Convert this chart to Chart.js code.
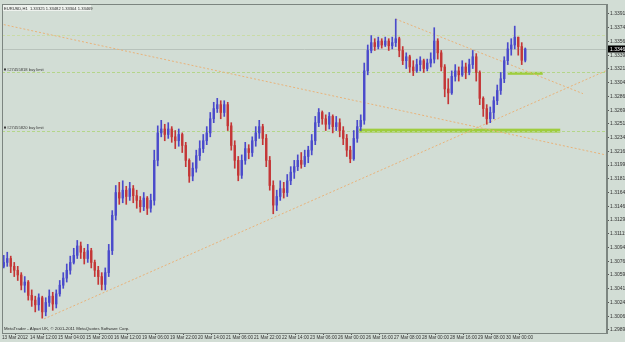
<!DOCTYPE html>
<html>
<head>
<meta charset="utf-8">
<script src="https://cdn.jsdelivr.net/npm/chart.js@4"></script>
<style>
html, body { margin: 0; padding: 0; background: #d2ddd5; }
#wrap { width: 625px; height: 342px; }
</style>
</head>
<body>
<div id="wrap"><canvas id="eurusdChart" width="625" height="342"></canvas></div>
<script>
// EURUSD H1, 2-hour steps
const symbolTitle = 'EURUSD,H1  1.33325 1.33482 1.33304 1.33469';
const copyrightText = 'MetaTrader - Alpari UK, \u00a9 2001-2011 MetaQuotes Software Corp.';

const firstOpen = 1.3070;
const closes = [
    1.3075, 1.3080, 1.3070, 1.3065, 1.3059, 1.3046, 1.3050, 1.3033, 1.3027, 1.3021,
    1.3030, 1.3012, 1.3024, 1.3032, 1.3022, 1.3035, 1.3046, 1.3055, 1.3065, 1.3075,
    1.3084, 1.3096, 1.3088, 1.3080, 1.3090, 1.3075, 1.3065, 1.3057, 1.3047, 1.3062,
    1.3090, 1.3135, 1.3164, 1.3157, 1.3167, 1.3159, 1.3169, 1.3160, 1.3154, 1.3146,
    1.3157, 1.3144, 1.3154, 1.3205, 1.3240, 1.3245, 1.3238, 1.3245, 1.3235, 1.3230,
    1.3238, 1.3224, 1.3205, 1.3185, 1.3195, 1.3211, 1.3220, 1.3230, 1.3240, 1.3258,
    1.3271, 1.3276, 1.3266, 1.3276, 1.3249, 1.3224, 1.3205, 1.3186, 1.3205, 1.3220,
    1.3215, 1.3230, 1.3240, 1.3248, 1.3233, 1.3205, 1.3173, 1.3148, 1.3159, 1.3169,
    1.3164, 1.3179, 1.3190, 1.3197, 1.3205, 1.3200, 1.3210, 1.3218, 1.3230, 1.3253,
    1.3266, 1.3258, 1.3251, 1.3261, 1.3248, 1.3253, 1.3243, 1.3233, 1.3218, 1.3207,
    1.3233, 1.3248, 1.3256, 1.3319, 1.3345, 1.3355, 1.3350, 1.3357, 1.3352, 1.3357,
    1.3351, 1.3355, 1.3360, 1.3345, 1.3332, 1.3337, 1.3324, 1.3319, 1.3327, 1.3332,
    1.3322, 1.3329, 1.3334, 1.3357, 1.3342, 1.3324, 1.3296, 1.3291, 1.3312, 1.3319,
    1.3314, 1.3324, 1.3317, 1.3327, 1.3337, 1.3317, 1.3284, 1.3271, 1.3258, 1.3266,
    1.3281, 1.3294, 1.3309, 1.3332, 1.3347, 1.3352, 1.3362, 1.3350, 1.33325, 1.33469
];
const highs = [
    1.3084, 1.3088, 1.3083, 1.3075, 1.3070, 1.3062, 1.3057, 1.3052, 1.3040, 1.3032,
    1.3035, 1.3032, 1.3030, 1.3040, 1.3037, 1.3040, 1.3052, 1.3062, 1.3073, 1.3083,
    1.3093, 1.3103, 1.3101, 1.3093, 1.3098, 1.3093, 1.3078, 1.3070, 1.3062, 1.3068,
    1.3098, 1.3141, 1.3173, 1.3177, 1.3179, 1.3172, 1.3177, 1.3173, 1.3167, 1.3159,
    1.3164, 1.3159, 1.3162, 1.3218, 1.3249, 1.3256, 1.3251, 1.3253, 1.3248, 1.3243,
    1.3245, 1.3240, 1.3228, 1.3207, 1.3202, 1.3218, 1.3230, 1.3238, 1.3248, 1.3266,
    1.3279, 1.3284, 1.3281, 1.3281, 1.3279, 1.3253, 1.3230, 1.3210, 1.3212, 1.3228,
    1.3225, 1.3235, 1.3248, 1.3256, 1.3251, 1.3238, 1.3210, 1.3179, 1.3167, 1.3179,
    1.3177, 1.3187, 1.3197, 1.3205, 1.3212, 1.3215, 1.3218, 1.3223, 1.3238, 1.3261,
    1.3271, 1.3268, 1.3263, 1.3266, 1.3263, 1.3261, 1.3258, 1.3248, 1.3238, 1.3223,
    1.3243, 1.3256, 1.3263, 1.3329, 1.3352, 1.3364, 1.3360, 1.3362, 1.3360, 1.3362,
    1.3360, 1.3362, 1.3385, 1.3362, 1.3350, 1.3342, 1.3339, 1.3332, 1.3334, 1.3337,
    1.3334, 1.3334, 1.3342, 1.3374, 1.3360, 1.3345, 1.3327, 1.3309, 1.3319, 1.3327,
    1.3324, 1.3332, 1.3329, 1.3334, 1.3345, 1.3341, 1.3319, 1.3286, 1.3276, 1.3273,
    1.3286, 1.3301, 1.3317, 1.3337, 1.3355, 1.3360, 1.3376, 1.3362, 1.3355, 1.33482
];
const lows = [
    1.3068, 1.3070, 1.3062, 1.3057, 1.3052, 1.3040, 1.3037, 1.3027, 1.3019, 1.3012,
    1.3014, 1.3004, 1.3007, 1.3019, 1.3014, 1.3017, 1.3032, 1.3042, 1.3050, 1.3060,
    1.3073, 1.3080, 1.3080, 1.3073, 1.3075, 1.3068, 1.3057, 1.3047, 1.3040, 1.3040,
    1.3057, 1.3085, 1.3129, 1.3149, 1.3151, 1.3149, 1.3154, 1.3151, 1.3144, 1.3139,
    1.3141, 1.3136, 1.3139, 1.3148, 1.3198, 1.3235, 1.3230, 1.3233, 1.3228, 1.3220,
    1.3223, 1.3215, 1.3197, 1.3177, 1.3179, 1.3190, 1.3205, 1.3215, 1.3225, 1.3235,
    1.3253, 1.3266, 1.3258, 1.3261, 1.3243, 1.3218, 1.3195, 1.3179, 1.3182, 1.3200,
    1.3207, 1.3210, 1.3223, 1.3233, 1.3225, 1.3197, 1.3167, 1.3137, 1.3141, 1.3154,
    1.3157, 1.3159, 1.3174, 1.3182, 1.3192, 1.3195, 1.3197, 1.3202, 1.3212, 1.3225,
    1.3248, 1.3251, 1.3243, 1.3245, 1.3240, 1.3243, 1.3235, 1.3225, 1.3210, 1.3202,
    1.3205, 1.3228, 1.3243, 1.3251, 1.3314, 1.3342, 1.3345, 1.3347, 1.3348, 1.3350,
    1.3345, 1.3347, 1.3350, 1.3337, 1.3327, 1.3322, 1.3317, 1.3313, 1.3317, 1.3319,
    1.3317, 1.3319, 1.3324, 1.3329, 1.3334, 1.3319, 1.3286, 1.3277, 1.3289, 1.3306,
    1.3306, 1.3312, 1.3309, 1.3314, 1.3322, 1.3306, 1.3276, 1.3261, 1.3251, 1.3253,
    1.3258, 1.3276, 1.3289, 1.3304, 1.3327, 1.3339, 1.3347, 1.3339, 1.3327, 1.33304
];

// time axis, one label every 8 candles
const timeLabels = [
    '13 Mar 2012', '14 Mar 12:00', '15 Mar 04:00', '15 Mar 20:00', '16 Mar 12:00',
    '19 Mar 06:00', '19 Mar 22:00', '20 Mar 14:00', '21 Mar 06:00', '21 Mar 22:00',
    '22 Mar 14:00', '23 Mar 06:00', '26 Mar 00:00', '26 Mar 16:00', '27 Mar 08:00',
    '28 Mar 00:00', '28 Mar 16:00', '29 Mar 08:00', '30 Mar 00:00'
];
const priceTicks = [
    1.33915, 1.33740, 1.33565, 1.33390, 1.33215, 1.33040, 1.32865, 1.32690,
    1.32515, 1.32340, 1.32165, 1.31990, 1.31815, 1.31640, 1.31465, 1.31290,
    1.31115, 1.30940, 1.30765, 1.30590, 1.30415, 1.30240, 1.30065, 1.29890
];

// pending orders and chart objects
const buyLimitPrices = [1.3317, 1.3243];
const buyLimitNames = ['#27455818 buy limit', '#27455820 buy limit'];
const targetLinePrice = 1.3365;
const zoneFrom = [144, 101.5];
const zoneTo = [154, 159];
const zoneTop = [1.33178, 1.32454];
const zoneBottom = [1.33140, 1.32404];
const trendLines = [
    [[-1.1, 1.3379], [173, 1.3211]],
    [[11.5, 1.3003], [173, 1.3321]],
    [[112, 1.3385], [165.5, 1.3290]]
];

const BULL = '#4a4acb';
const BEAR = '#c43636';
const FONT = 'Liberation Sans';

const bodies = [];
const wicks = [];
const bodyColors = [];
closes.forEach((c, i) => {
    const o = i === 0 ? firstOpen : closes[i - 1];
    bodies.push({ x: i, y: [o, c] });
    wicks.push({ x: i, y: [Math.min(lows[i], o, c), Math.max(highs[i], o, c)] });
    bodyColors.push(c >= o ? BULL : BEAR);
});

const overlayPlugin = {
    id: 'overlay',
    beforeDraw(chart) {
        const { ctx } = chart;
        ctx.save();
        ctx.fillStyle = '#d2ddd5';
        ctx.fillRect(0, 0, chart.width, chart.height);
        ctx.restore();
    },
    beforeDatasetsDraw(chart) {
        const { ctx, chartArea: a, scales: { x, y } } = chart;
        ctx.save();
        // zones
        ctx.fillStyle = '#9fcd3e';
        for (let k = 0; k < zoneFrom.length; k++) {
            const x1 = x.getPixelForValue(zoneFrom[k]);
            const x2 = x.getPixelForValue(zoneTo[k]);
            const y1 = y.getPixelForValue(zoneTop[k]);
            const y2 = y.getPixelForValue(zoneBottom[k]);
            ctx.fillRect(x1, y1, x2 - x1, y2 - y1);
        }
        // buy limit lines
        ctx.strokeStyle = '#b4d68a';
        ctx.lineWidth = 1;
        ctx.setLineDash([3, 2]);
        buyLimitPrices.forEach(p => {
            const py = Math.round(y.getPixelForValue(p)) + 0.5;
            ctx.beginPath(); ctx.moveTo(a.left, py); ctx.lineTo(a.right, py); ctx.stroke();
        });
        ctx.strokeStyle = '#cadba6';
        const ty = Math.round(y.getPixelForValue(targetLinePrice)) + 0.5;
        ctx.beginPath(); ctx.moveTo(a.left, ty); ctx.lineTo(a.right, ty); ctx.stroke();
        // bid line
        ctx.setLineDash([]);
        ctx.strokeStyle = '#b8c2bb';
        const by = Math.round(y.getPixelForValue(closes[closes.length - 1])) + 0.5;
        ctx.beginPath(); ctx.moveTo(a.left, by); ctx.lineTo(a.right, by); ctx.stroke();
        ctx.restore();
    },
    afterDraw(chart) {
        const { ctx, chartArea: a, scales: { y } } = chart;
        ctx.save();
        ctx.strokeStyle = '#7c8580';
        ctx.lineWidth = 1;
        ctx.strokeRect(a.left + 0.5, a.top + 0.5, a.right - a.left - 1, a.bottom - a.top);
        ctx.textBaseline = 'middle';
        ctx.fillStyle = '#eef2ee';
        ctx.fillRect(a.left + 1, a.top + 1, 88, 6);
        ctx.fillStyle = '#2a2a2a';
        ctx.font = '4.1px "' + FONT + '"';
        ctx.fillText(symbolTitle, a.left + 2, a.top + 4.5);
        ctx.font = '4.3px "' + FONT + '"';
        ctx.fillText(copyrightText, a.left + 2, a.bottom - 4);
        ctx.font = '4.1px "' + FONT + '"';
        buyLimitPrices.forEach((p, k) => {
            const py = y.getPixelForValue(p);
            ctx.fillStyle = '#3a3a3a';
            ctx.fillRect(a.left + 2, py - 4, 2, 2);
            ctx.fillText(buyLimitNames[k], a.left + 5, py - 3);
        });
        // current price box
        const last = closes[closes.length - 1];
        const py = y.getPixelForValue(last);
        ctx.font = '5px "' + FONT + '"';
        ctx.fillStyle = '#000000';
        ctx.fillRect(a.right + 1, py - 3.5, chart.width - a.right, 7);
        ctx.fillStyle = '#ffffff';
        ctx.fillText(last.toFixed(5), a.right + 3, py + 0.5);
        ctx.restore();
    }
};

const trendSets = trendLines.map(pts => ({
    type: 'line',
    data: pts.map(p => ({ x: p[0], y: p[1] })),
    borderColor: '#e9b37a',
    borderWidth: 1,
    borderDash: [2, 2],
    pointRadius: 0,
    order: 3
}));

new Chart(document.getElementById('eurusdChart'), {
    type: 'bar',
    data: {
        datasets: [
            {
                data: bodies,
                backgroundColor: bodyColors,
                barThickness: 1.7,
                minBarLength: 1,
                grouped: false,
                order: 1
            },
            {
                data: wicks,
                backgroundColor: bodyColors,
                barThickness: 1,
                grouped: false,
                order: 2
            },
            ...trendSets
        ]
    },
    options: {
        responsive: false,
        animation: false,
        events: [],
        layout: { padding: { left: 2, top: 3, right: 0, bottom: 0 } },
        plugins: { legend: { display: false }, tooltip: { enabled: false } },
        scales: {
            x: {
                type: 'linear',
                min: -0.5,
                max: 172.36,
                offset: false,
                grid: { drawOnChartArea: false, tickLength: 2, color: '#555' },
                border: { display: true, color: '#7c8580' },
                ticks: {
                    align: 'start',
                    autoSkip: false,
                    maxRotation: 0,
                    padding: 0,
                    color: '#333',
                    font: { family: FONT, size: 4.6 },
                    callback: (v, i) => timeLabels[i]
                },
                afterBuildTicks: s => { s.ticks = timeLabels.map((_, k) => ({ value: 8 * k - 0.5 })); },
                afterFit: s => { s.height = 9; }
            },
            y: {
                position: 'right',
                min: 1.29851,
                max: 1.34042,
                grid: { drawOnChartArea: false, tickLength: 2, color: '#555' },
                border: { display: true, color: '#7c8580' },
                ticks: {
                    padding: 1,
                    color: '#333',
                    font: { family: FONT, size: 5 },
                    callback: v => v.toFixed(5)
                },
                afterBuildTicks: s => { s.ticks = priceTicks.map(v => ({ value: v })); },
                afterFit: s => { s.width = 18; }
            }
        }
    },
    plugins: [overlayPlugin]
});
</script>
</body>
</html>
